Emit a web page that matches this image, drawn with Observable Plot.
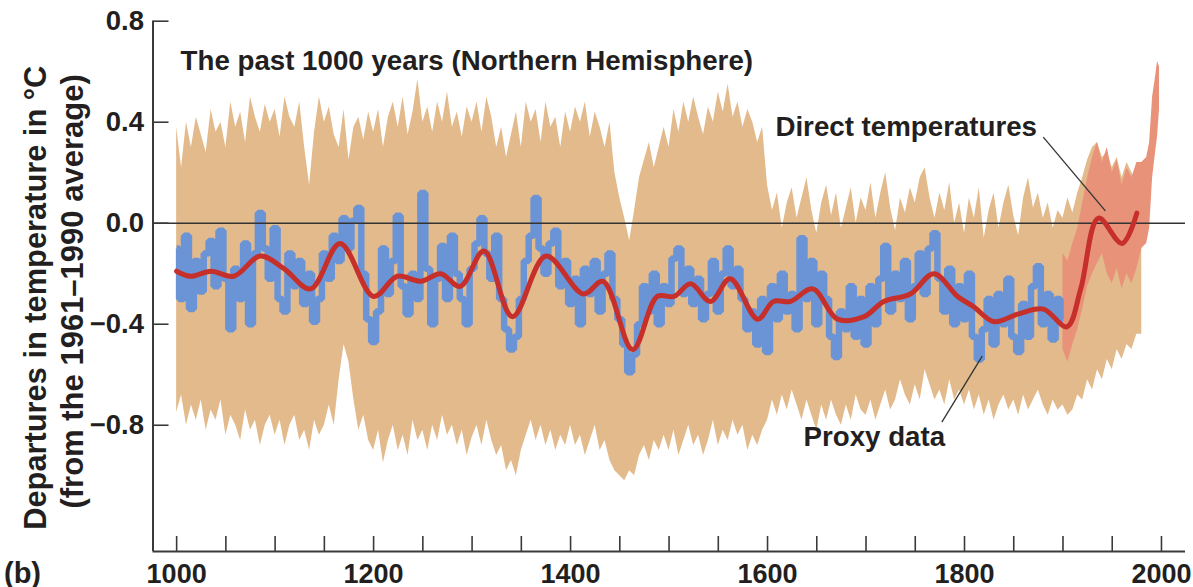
<!DOCTYPE html>
<html>
<head>
<meta charset="utf-8">
<script src="https://cdn.jsdelivr.net/npm/d3@7"></script>
<script src="https://cdn.jsdelivr.net/npm/@observablehq/plot@0.6"></script>
<style>
  html, body { margin: 0; padding: 0; background: #fff; }
  #chart { width: 1193px; height: 587px; }
</style>
</head>
<body>
<div id="chart"></div>
<script>
// ---------- DATA ----------
// Proxy reconstruction (blue), 5-year steps starting 1000
const proxyStart = 1000;
const proxyStep = 5;
const proxyValues = [
  -0.10,-0.30,-0.05,-0.34,-0.15,-0.27,-0.12,-0.07,-0.25,-0.03,-0.22,-0.42,-0.18,-0.30,-0.08,-0.40,-0.12,0.04,-0.10,-0.22,
  -0.02,-0.30,-0.35,-0.12,-0.25,-0.15,-0.32,-0.20,-0.39,-0.30,-0.12,-0.22,-0.05,-0.15,0.02,-0.10,0.01,0.06,-0.20,-0.38,
  -0.47,-0.35,-0.10,-0.28,-0.15,0.03,-0.25,-0.36,-0.20,-0.30,0.12,-0.18,-0.40,-0.22,-0.09,-0.30,-0.05,-0.20,-0.30,-0.40,
  -0.18,-0.08,0.02,-0.12,-0.22,-0.05,-0.30,-0.42,-0.50,-0.45,-0.30,-0.15,-0.05,0.10,-0.10,-0.20,-0.08,-0.03,-0.25,-0.15,
  -0.32,-0.22,-0.40,-0.18,-0.28,-0.15,-0.35,-0.20,-0.12,-0.30,-0.38,-0.48,-0.59,-0.52,-0.40,-0.25,-0.35,-0.20,-0.40,-0.25,
  -0.32,-0.14,-0.10,-0.28,-0.18,-0.32,-0.22,-0.38,-0.28,-0.15,-0.35,-0.20,-0.10,-0.25,-0.18,-0.30,-0.42,-0.35,-0.48,-0.30,
  -0.51,-0.25,-0.38,-0.20,-0.35,-0.28,-0.42,-0.06,-0.30,-0.15,-0.40,-0.20,-0.30,-0.45,-0.53,-0.35,-0.42,-0.25,-0.45,-0.30,
  -0.48,-0.25,-0.40,-0.22,-0.09,-0.35,-0.20,-0.30,-0.15,-0.38,-0.25,-0.12,-0.28,-0.10,-0.04,-0.22,-0.35,-0.18,-0.40,-0.25,
  -0.38,-0.20,-0.45,-0.54,-0.42,-0.30,-0.48,-0.28,-0.40,-0.22,-0.45,-0.51,-0.32,-0.45,-0.25,-0.17,-0.40,-0.28,-0.46,-0.30,
  -0.38
];

// Proxy uncertainty band (tan), 5-year steps starting 1000
const bandStart = 1000;
const bandStep = 5;
const bandHigh = [
  0.38,0.22,0.40,0.30,0.42,0.35,0.28,0.45,0.36,0.40,0.30,0.48,0.38,0.44,0.32,0.50,0.42,0.36,0.47,0.40,
  0.45,0.34,0.50,0.42,0.38,0.48,0.30,0.15,0.36,0.50,0.40,0.46,0.35,0.30,0.45,0.25,0.38,0.42,0.33,0.44,
  0.36,0.45,0.30,0.42,0.48,0.38,0.50,0.35,0.44,0.57,0.40,0.46,0.36,0.48,0.40,0.52,0.38,0.44,0.34,0.46,
  0.40,0.48,0.36,0.50,0.42,0.30,0.38,0.26,0.35,0.44,0.30,0.48,0.40,0.45,0.32,0.48,0.38,0.42,0.30,0.44,
  0.36,0.46,0.40,0.48,0.34,0.44,0.38,0.30,0.40,0.20,0.10,0.02,-0.07,0.05,0.18,0.25,0.32,0.22,0.30,0.38,
  0.30,0.45,0.36,0.48,0.40,0.50,0.42,0.35,0.46,0.40,0.52,0.44,0.55,0.42,0.48,0.38,0.45,0.40,0.32,0.38,
  0.15,0.05,0.12,-0.02,0.08,0.14,0.02,0.10,0.18,0.05,-0.04,0.08,0.15,0.03,0.12,-0.02,0.06,0.14,0.00,0.10,
  0.05,0.16,0.02,0.12,0.20,0.06,-0.03,0.10,0.04,0.14,0.08,0.18,0.22,0.10,0.02,0.12,0.05,0.16,0.00,0.08,
  -0.04,0.10,0.02,0.14,-0.06,0.05,0.12,-0.02,0.08,0.15,0.03,-0.05,0.10,0.18,0.06,0.12,0.02,0.08,-0.02,0.05,
  0.02,0.10,0.04,0.12,0.18,0.25,0.30,0.32,0.26,0.28,0.22,0.26,0.18,0.24,0.20,0.16,0.10
];
const bandLow = [
  -0.75,-0.68,-0.80,-0.72,-0.78,-0.70,-0.82,-0.74,-0.78,-0.70,-0.84,-0.76,-0.80,-0.86,-0.74,-0.82,-0.78,-0.88,-0.80,-0.76,
  -0.84,-0.78,-0.88,-0.80,-0.76,-0.86,-0.82,-0.90,-0.78,-0.84,-0.80,-0.72,-0.80,-0.62,-0.48,-0.55,-0.70,-0.82,-0.76,-0.86,
  -0.90,-0.82,-0.95,-0.86,-0.80,-0.90,-0.84,-0.92,-0.78,-0.86,-0.82,-0.90,-0.80,-0.86,-0.76,-0.84,-0.80,-0.88,-0.82,-0.92,
  -0.85,-0.80,-0.88,-0.78,-0.86,-0.92,-0.88,-0.98,-0.94,-1.00,-0.90,-0.84,-0.78,-0.86,-0.80,-0.88,-0.82,-0.90,-0.84,-0.88,
  -0.80,-0.88,-0.84,-0.92,-0.86,-0.80,-0.90,-0.86,-0.94,-0.98,-1.00,-1.02,-0.98,-1.00,-0.92,-0.88,-0.94,-0.86,-0.90,-0.84,
  -0.90,-0.82,-0.92,-0.86,-0.80,-0.88,-0.84,-0.92,-0.86,-0.78,-0.88,-0.82,-0.86,-0.78,-0.84,-0.80,-0.90,-0.84,-0.88,-0.82,
  -0.78,-0.70,-0.76,-0.68,-0.74,-0.66,-0.72,-0.78,-0.70,-0.76,-0.82,-0.72,-0.78,-0.70,-0.76,-0.80,-0.72,-0.78,-0.68,-0.74,
  -0.76,-0.70,-0.78,-0.72,-0.66,-0.74,-0.70,-0.62,-0.68,-0.72,-0.64,-0.70,-0.58,-0.64,-0.70,-0.66,-0.72,-0.62,-0.70,-0.66,
  -0.72,-0.66,-0.74,-0.68,-0.76,-0.70,-0.78,-0.72,-0.68,-0.74,-0.70,-0.76,-0.68,-0.74,-0.70,-0.66,-0.72,-0.76,-0.70,-0.74,
  -0.72,-0.76,-0.74,-0.68,-0.70,-0.62,-0.66,-0.58,-0.62,-0.54,-0.58,-0.50,-0.54,-0.48,-0.50,-0.44,-0.44
];

// Direct (instrumental) temperatures band (salmon)
const directYears = [1900,1905,1910,1915,1920,1925,1930,1935,1940,1945,1950,1955,1960,1965,1970,1975,1980,1985,1988,1991,1994,1996,1998];
const directHigh  = [-0.12,-0.15,-0.08,-0.02,0.08,0.18,0.26,0.32,0.24,0.30,0.20,0.25,0.15,0.22,0.18,0.24,0.24,0.26,0.32,0.50,0.58,0.64,0.62];
const directLow   = [-0.50,-0.55,-0.48,-0.42,-0.34,-0.25,-0.20,-0.16,-0.12,-0.20,-0.24,-0.18,-0.26,-0.20,-0.24,-0.18,-0.10,-0.08,-0.02,0.18,0.28,0.34,0.45];

// Smoothed series (red)
const smoothYears  = [1000,1014,1035,1058,1085,1109,1136,1166,1200,1224,1248,1268,1288,1312,1341,1375,1413,1433,1463,1488,1505,1522,1542,1562,1590,1606,1623,1646,1671,1698,1718,1745,1769,1793,1809,1830,1854,1880,1904,1918,1936,1960,1975];
const smoothValues = [-0.19,-0.21,-0.19,-0.21,-0.13,-0.18,-0.26,-0.08,-0.29,-0.21,-0.23,-0.20,-0.25,-0.11,-0.37,-0.13,-0.28,-0.23,-0.50,-0.29,-0.29,-0.24,-0.31,-0.22,-0.38,-0.31,-0.31,-0.26,-0.38,-0.37,-0.31,-0.28,-0.20,-0.29,-0.33,-0.39,-0.36,-0.34,-0.41,-0.26,0.02,-0.08,0.04];

// Axes
const xTickLabels = [1000, 1200, 1400, 1600, 1800, 2000];
const xTickMarks = [1000,1050,1100,1150,1200,1250,1300,1350,1400,1450,1500,1550,1600,1650,1700,1750,1800,1850,1900,1950,2000];
const yTickValues = [0.8, 0.4, 0.0, -0.4, -0.8];
const xDomain = [976, 2024.4];
const yDomain = [-1.3, 0.8];

// Annotations
const labelTexts = ["The past 1000 years (Northern Hemisphere)", "Direct temperatures", "Proxy data"];
const labelX = [1004, 1608, 1636.5];
const labelY = [0.642, 0.379, -0.848];
const leaderX1 = [1880, 1777];
const leaderY1 = [0.341, -0.788];
const leaderX2 = [1943, 1818];
const leaderY2 = [0.049, -0.526];
const yTitleLines = ["Departures in temperature in °C", "(from the 1961\u20131990 average)"];
const panelLetter = "(b)";

// ---------- BUILD ----------
const W = 1193, H = 587;
const mL = 152.5, mR = 8, mT = 20.7, mB = 36;
const plotW = W - mL - mR, plotH = H - mT - mB;

const proxy = proxyValues.map((v, i) => ({year: proxyStart + i * proxyStep, v}));
const band = bandHigh.map((h, i) => ({year: bandStart + i * bandStep, hi: h, lo: bandLow[i]}));
const direct = directYears.map((y, i) => ({year: y, hi: directHigh[i], lo: directLow[i]}));
const smooth = smoothYears.map((y, i) => ({year: y, v: smoothValues[i]}));
const labels = labelTexts.map((t, i) => ({t, x: labelX[i], y: labelY[i]}));
const leaders = leaderX1.map((x, i) => ({x1: x, y1: leaderY1[i], x2: leaderX2[i], y2: leaderY2[i]}));

const ink = "#231f20";
const axisInk = "#3a3a3a";
const font = "'Liberation Sans', Arial, Helvetica, sans-serif";
const fmtY = d => (d < 0 ? "\u2212" : "") + Math.abs(d).toFixed(1);

const chart = Plot.plot({
  width: W, height: H,
  marginLeft: mL, marginRight: mR, marginTop: mT, marginBottom: mB,
  x: {domain: xDomain, axis: null},
  y: {domain: yDomain, axis: null},
  style: {fontFamily: font, background: "#fff", color: ink, overflow: "visible"},
  marks: [
    Plot.areaY(band, {x: "year", y1: "lo", y2: "hi", fill: "#e3ba8b"}),
    Plot.areaY(direct, {x: "year", y1: "lo", y2: "hi", fill: "#e9927a"}),
    Plot.line(proxy, {x: "year", y: "v", stroke: "#6b94d6", strokeWidth: 6.5, strokeLinejoin: "miter", strokeLinecap: "butt", curve: "step"}),
    Plot.ruleY([0], {stroke: "#333", strokeWidth: 1.5}),
    Plot.line(smooth, {x: "year", y: "v", stroke: "#c62f2a", strokeWidth: 5, curve: "catmull-rom"}),
    // axis lines
    Plot.ruleX([xDomain[0]], {stroke: axisInk, strokeWidth: 2}),
    Plot.ruleY([yDomain[0]], {stroke: axisInk, strokeWidth: 2}),
    // inward tick marks
    Plot.ruleX(xTickMarks, {x: d => d, insetTop: plotH - 15, stroke: axisInk, strokeWidth: 1.6}),
    Plot.ruleY(yTickValues, {y: d => d, insetRight: plotW - 16, stroke: axisInk, strokeWidth: 1.6}),
    // tick labels
    Plot.axisX(xTickLabels, {tickSize: 0, tickPadding: 12, tickFormat: d => String(d), fontSize: 27, fontWeight: "bold", fill: ink}),
    Plot.axisY(yTickValues, {tickSize: 0, tickPadding: 9, tickFormat: fmtY, fontSize: 27.5, fontWeight: "bold", fill: ink}),
    // y axis title (two lines)
    Plot.text([yTitleLines[0]], {frameAnchor: "left", y: () => -0.295, dx: -117, rotate: -90, fontSize: 30.8, fontWeight: "bold", fill: ink, textAnchor: "middle", lineAnchor: "middle"}),
    Plot.text([yTitleLines[1]], {frameAnchor: "left", y: () => -0.27, dx: -80, rotate: -90, fontSize: 31, fontWeight: "bold", fill: ink, textAnchor: "middle", lineAnchor: "middle"}),
    // panel letter
    Plot.text([panelLetter], {frameAnchor: "bottom-left", dx: -149, dy: 11, lineAnchor: "top", textAnchor: "start", fontSize: 29, fontWeight: "bold", fill: ink}),
    // annotations
    Plot.text(labels, {x: "x", y: "y", text: "t", textAnchor: "start", lineAnchor: "middle", fontSize: 27.7, fontWeight: "bold", fill: ink}),
    Plot.link(leaders, {x1: "x1", y1: "y1", x2: "x2", y2: "y2", stroke: "#333", strokeWidth: 1.3})
  ]
});
document.getElementById("chart").appendChild(chart);
</script>
</body>
</html>
